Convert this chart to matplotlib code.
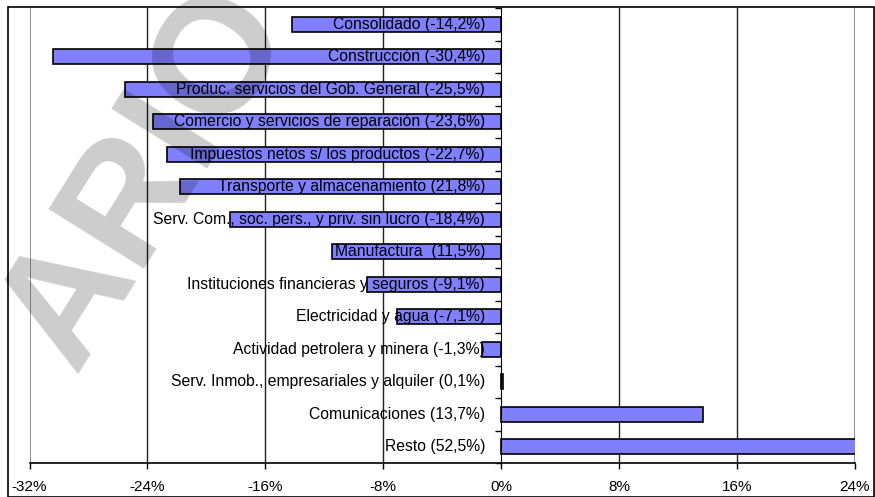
import numpy as np
import matplotlib.pyplot as plt
import matplotlib
from matplotlib.patches import Rectangle
matplotlib.rcParams['font.family'] = ['Liberation Sans', 'DejaVu Sans']

# categories (top to bottom) and growth rates in %
labels = ["Consolidado (-14,2%)",
          "Construcción (-30,4%)",
          "Produc. servicios del Gob. General (-25,5%)",
          "Comercio y servicios de reparación (-23,6%)",
          "Impuestos netos s/ los productos (-22,7%)",
          "Transporte y almacenamiento (21,8%)",
          "Serv. Com., soc. pers., y priv. sin lucro (-18,4%)",
          "Manufactura  (11,5%)",
          "Instituciones financieras y seguros (-9,1%)",
          "Electricidad y agua (-7,1%)",
          "Actividad petrolera y minera (-1,3%)",
          "Serv. Inmob., empresariales y alquiler (0,1%)",
          "Comunicaciones (13,7%)",
          "Resto (52,5%)"]
values = [-14.2, -30.4, -25.5, -23.6, -22.7, -21.8, -18.4, -11.5,
          -9.1, -7.1, -1.3, 0.1, 13.7, 52.5]
xticks = [-32, -24, -16, -8, 0, 8, 16, 24]

label_size = 11.3

fig = plt.figure(figsize=(8.75, 4.97), dpi=100)
ax = fig.add_axes([29.5/875, 1-463/497, (855-29.5)/875, (463-8)/497])

y = np.arange(len(values))
ax.barh(y, values, height=0.46, color="#8080FF", edgecolor="black",
        linewidth=1.2, zorder=3)

for i, lab in enumerate(labels):
    ax.text(-1.1, i, lab, ha="right", va="center", size=label_size, zorder=5)

ax.set_xlim(-32, 24)
ax.set_ylim(len(values)-0.5, -0.5)

for xv in xticks:
    if xv in (-32, 24):
        ax.axvline(xv, color="#808080", linewidth=1.2, zorder=1)
    elif xv != 0:
        ax.axvline(xv, color="#202020", linewidth=1.0, zorder=1)

ax.spines['left'].set_position(('data', 0))
ax.spines['left'].set_zorder(4)
ax.spines['right'].set_visible(False)
ax.spines['top'].set_visible(False)
ax.spines['bottom'].set_linewidth(1.2)

ax.set_yticks(np.arange(-0.5, len(values), 1.0))
ax.set_yticklabels([])
ax.tick_params(axis="y", direction="out", length=4, width=1)

ax.set_xticks(xticks)
ax.set_xticklabels(["%i%%" % v for v in xticks])
ax.tick_params(axis="x", direction="out", length=4, width=1,
               labelsize=11, pad=8)

# outer chart border
fig.patches.append(Rectangle((8/875, 0), 866/875, 1-7/497, transform=fig.transFigure,
                             fill=False, edgecolor="black", linewidth=1.2))

# watermark
fig.text(148/875, 1-178/497, "ARIO", rotation=58, ha="center", va="center",
         size=118, weight="bold", color="black", alpha=0.2, zorder=4)

plt.savefig("out.png", dpi=100)
